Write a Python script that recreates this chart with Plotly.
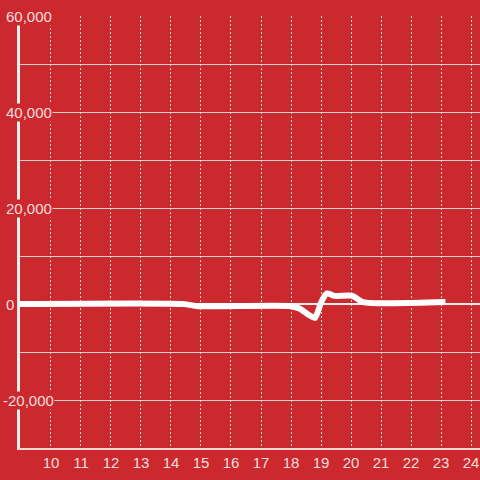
import plotly.graph_objects as go

# Data
hours = [8.9, 14.4, 14.9, 18.0, 18.3, 18.55, 18.8, 19.0, 19.2, 19.45, 20.05, 20.4, 23.15]
values = [0, 0, -450, -450, -1000, -2100, -2900, 300, 2200, 1700, 1700, 400, 400]
x_ticks = list(range(10, 25))
y_label_vals = [60000, 40000, 20000, 0, -20000]
y_grid_vals = list(range(-30000, 60001, 10000))

BG = "#cc292e"
TXT = "rgba(255,255,255,0.85)"

fig = go.Figure()
fig.add_trace(go.Scatter(
    x=hours, y=values, mode="lines",
    line=dict(color="white", width=6, shape="spline", smoothing=0.6),
    hoverinfo="skip", showlegend=False,
))

fig.update_layout(
    width=480, height=480,
    margin=dict(l=20, r=0, t=16, b=32, autoexpand=False),
    paper_bgcolor=BG, plot_bgcolor=BG,
    font=dict(family="Liberation Sans, Arial, sans-serif", size=15, color=TXT),
    showlegend=False,
)
fig.update_xaxes(
    range=[8.967, 24.3], tickvals=x_ticks, ticks="", automargin=False,
    showgrid=True, gridcolor="rgba(235,235,235,0.9)", gridwidth=1, griddash="2px,2px",
    showline=True, linecolor="rgba(235,235,235,0.9)", linewidth=2,
    zeroline=False, tickfont=dict(size=15, color=TXT),
)
fig.update_yaxes(
    range=[-30000, 60000], tickvals=y_grid_vals, showticklabels=False, ticks="",
    automargin=False,
    showgrid=True, gridcolor="rgba(225,225,225,0.9)", gridwidth=1,
    zeroline=True, zerolinecolor="rgba(245,245,245,0.95)", zerolinewidth=2,
    showline=True, linecolor="#eeeeee", linewidth=3,
)

for v in y_label_vals:
    left_px = 2 if v < 0 else 5
    fig.add_annotation(
        x=(left_px - 20) / 460, xref="paper", y=v, yref="y",
        text=f"{v:,}", showarrow=False, xanchor="left", yanchor="middle",
        bgcolor=BG, borderpad=0, font=dict(size=15, color=TXT),
    )

fig.write_html(
    "out.html",
    config={"displayModeBar": False},
    post_script="document.body.style.margin='0';document.body.style.overflow='hidden';",
)
